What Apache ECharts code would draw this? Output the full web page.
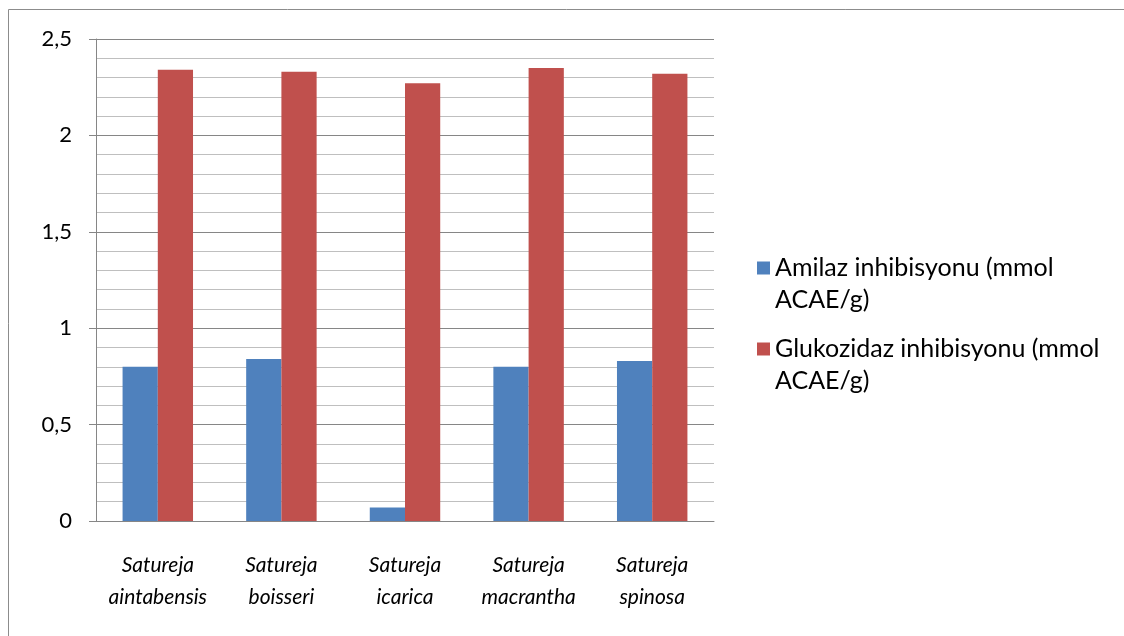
<!DOCTYPE html>
<html>
<head>
<meta charset="utf-8">
<script src="https://cdn.jsdelivr.net/npm/echarts@6/dist/echarts.min.js"></script>
<style>
  html, body { margin: 0; padding: 0; background: #fff; }
  #chart { width: 1124px; height: 636px; }
</style>
</head>
<body>
<div id="chart"></div>
<script>
// kategoriler (tür adları)
const categories = [
  'Satureja\naintabensis',
  'Satureja\nboisseri',
  'Satureja\nicarica',
  'Satureja\nmacrantha',
  'Satureja\nspinosa'
];
const seriesNames = [
  'Amilaz inhibisyonu (mmol\nACAE/g)',
  'Glukozidaz inhibisyonu (mmol\nACAE/g)'
];
const amilaz = [0.80, 0.84, 0.07, 0.80, 0.83];
const glukozidaz = [2.34, 2.33, 2.27, 2.35, 2.32];

const font = 'Lato, "Open Sans", sans-serif';
const chart = echarts.init(document.getElementById('chart'));

chart.setOption({
  animation: false,
  textStyle: { fontFamily: font },
  graphic: [
    {
      // dış çerçeve
      type: 'rect',
      shape: { x: 8.5, y: 9.5, width: 1300, height: 800 },
      style: { fill: 'none', stroke: '#8c8c8c', lineWidth: 1 },
      silent: true
    }
  ],
  grid: { left: 96, top: 39, right: 410, bottom: 115 },
  legend: {
    orient: 'vertical',
    left: 757,
    top: 252,
    padding: 0,
    itemWidth: 13,
    itemHeight: 45,
    itemGap: 17,
    // kare işaret üstte: ilk satırla aynı hizada dursun
    icon: 'path://M0,0L13,0L13,13L0,13Z M0,45',
    textStyle: {
      fontFamily: font,
      fontSize: 25,
      color: '#000',
      lineHeight: 32
    },
    data: seriesNames
  },
  xAxis: {
    type: 'category',
    data: categories,
    axisLine: { lineStyle: { color: '#868686' } },
    axisTick: { length: 7, lineStyle: { color: '#868686' } },
    axisLabel: {
      interval: 0,
      fontFamily: font,
      fontSize: 21,
      fontStyle: 'italic',
      color: '#000',
      lineHeight: 32,
      margin: 28
    }
  },
  yAxis: {
    type: 'value',
    min: 0,
    max: 2.5,
    interval: 0.5,
    axisLine: { show: true, lineStyle: { color: '#868686' } },
    axisTick: { show: true, length: 7, lineStyle: { color: '#868686' } },
    axisLabel: {
      fontFamily: font,
      fontSize: 22,
      color: '#000',
      margin: 24,
      formatter: (v) => String(v).replace('.', ',')
    },
    splitLine: { lineStyle: { color: '#868686', width: 1 } },
    minorTick: { show: false, splitNumber: 5 },
    minorSplitLine: { show: true, lineStyle: { color: '#bfbfbf', width: 1 } }
  },
  series: [
    {
      name: seriesNames[0],
      type: 'bar',
      data: amilaz,
      barGap: '0%',
      barCategoryGap: '43%',
      itemStyle: { color: '#4f81bd' }
    },
    {
      name: seriesNames[1],
      type: 'bar',
      data: glukozidaz,
      itemStyle: { color: '#c0504d' }
    }
  ]
});
</script>
</body>
</html>
